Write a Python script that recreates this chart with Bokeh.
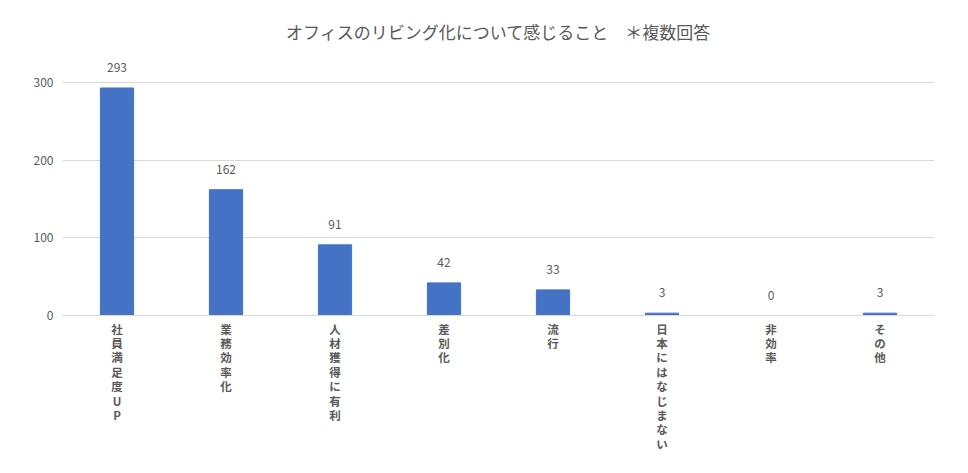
from bokeh.plotting import figure
from bokeh.models import ColumnDataSource, FixedTicker
from bokeh.core.properties import value
from bokeh.embed import file_html
from bokeh.resources import INLINE

title_text = "オフィスのリビング化について感じること　＊複数回答"
categories = ["社員満足度UP", "業務効率化", "人材獲得に有利", "差別化", "流行",
              "日本にはなじまない", "非効率", "その他"]
counts = [293, 162, 91, 42, 33, 3, 0, 3]
y_ticks = [0, 100, 200, 300]

FONT = "Noto Sans CJK JP"
GREY = "#595959"

# vertical (stacked) category labels
factors = ["\n".join(list(c)) for c in categories]

src = ColumnDataSource(dict(x=factors, top=counts, lab=[str(v) for v in counts]))

p = figure(x_range=factors, y_range=(0, 340), width=968, height=473,
           output_backend="svg", toolbar_location=None,
           min_border_left=62, min_border_right=34, min_border_bottom=158,
           min_border_top=51)

p.vbar(x="x", top="top", width=0.305, source=src, color="#4472C4",
       line_color="#4472C4")
p.text(x="x", y="top", text="lab", source=src, text_align="center",
       text_baseline="bottom", y_offset=-16, text_color=GREY,
       text_font=value(FONT), text_font_size="12px")

p.title.text = title_text
p.title.align = "center"
p.title.text_font = FONT
p.title.text_font_size = "17px"
p.title.text_font_style = "normal"
p.title.text_color = GREY
p.title.standoff = 15

p.outline_line_color = None
p.background_fill_color = "white"
p.border_fill_color = "white"

p.xgrid.grid_line_color = None
p.ygrid.grid_line_color = "#d9d9d9"
p.ygrid.grid_line_width = 1

p.yaxis.ticker = FixedTicker(ticks=y_ticks)
p.yaxis.axis_line_color = None
p.yaxis.major_tick_line_color = None
p.yaxis.minor_tick_line_color = None
p.yaxis.major_tick_out = 0
p.yaxis.major_tick_in = 0
p.yaxis.major_label_standoff = 9
p.yaxis.major_label_text_font = FONT
p.yaxis.major_label_text_font_size = "12px"
p.yaxis.major_label_text_color = GREY

p.xaxis.axis_line_color = "#d9d9d9"
p.xaxis.major_tick_line_color = None
p.xaxis.minor_tick_line_color = None
p.xaxis.major_tick_out = 0
p.xaxis.major_tick_in = 0
p.xaxis.major_label_standoff = 5
p.xaxis.major_label_text_font = FONT
p.xaxis.major_label_text_font_size = "11.5px"
p.xaxis.major_label_text_font_style = "bold"
p.xaxis.major_label_text_color = GREY
p.xaxis.major_label_text_line_height = 0.9

open("out.html", "w").write(file_html(p, INLINE))
